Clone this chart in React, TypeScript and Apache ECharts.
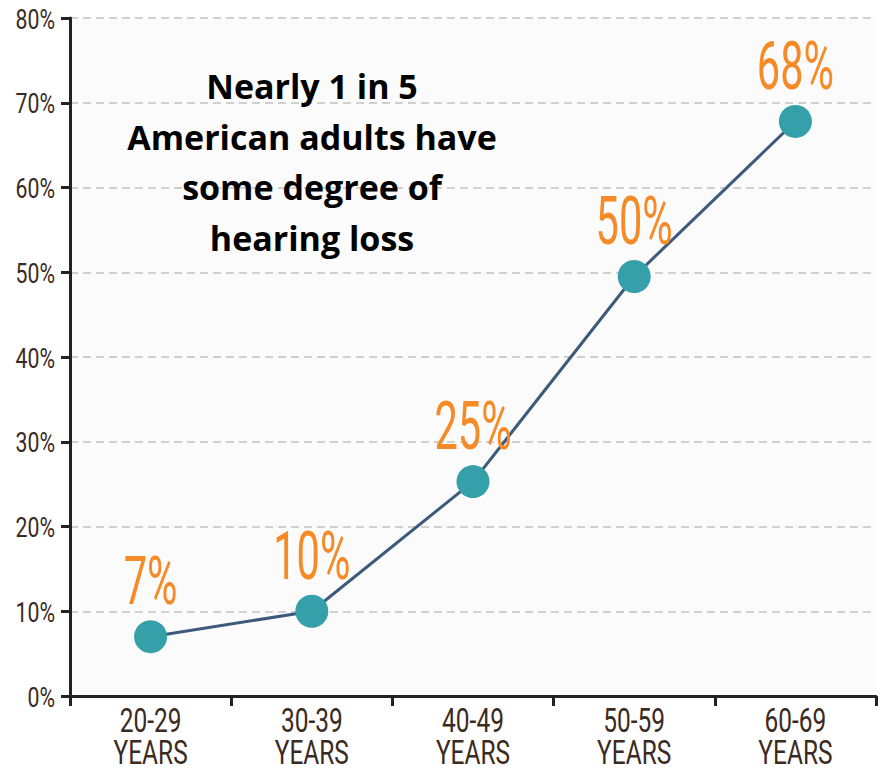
import React, { useEffect, useRef } from "react";
import * as echarts from "echarts";

const categories = ["20-29\nYEARS", "30-39\nYEARS", "40-49\nYEARS", "50-59\nYEARS", "60-69\nYEARS"];
const values = [7, 10, 25.3, 49.5, 67.8];
const labels = ["7%", "10%", "25%", "50%", "68%"];
const yTicks = [0, 10, 20, 30, 40, 50, 60, 70, 80];
const noteLines = ["Nearly 1 in 5", "American adults have", "some degree of", "hearing loss"];

const COND = 'Roboto, "DejaVu Sans", sans-serif';
const AXIS_TEXT = "#3b2a22";
const ORANGE = "#f68a26";

export default function App() {
  const ref = useRef<HTMLDivElement>(null);
  useEffect(() => {
    if (!ref.current) return;
    const chart = echarts.init(ref.current, null, { renderer: "svg" });
    chart.setOption({
      animation: false,
      backgroundColor: "#ffffff",
      grid: {
        left: 70,
        right: 11,
        top: 18,
        bottom: 79,
        show: true,
        backgroundColor: "#fbfbfb",
        borderWidth: 0,
      },
      graphic: noteLines.map((line, i) => ({
        type: "text",
        x: 312,
        y: 86 + i * 50.5,
        z: 10,
        style: {
          text: line,
          align: "center",
          verticalAlign: "middle",
          fontFamily: '"Open Sans", sans-serif',
          fontWeight: "bold",
          fontSize: 34,
          fill: "#000000",
        },
      })),
      xAxis: {
        type: "category",
        data: categories,
        boundaryGap: true,
        axisLine: { lineStyle: { color: "#222222", width: 3 } },
        axisTick: { show: true, length: 10, lineStyle: { color: "#222222", width: 3 } },
        axisLabel: { show: false },
      },
      yAxis: {
        type: "value",
        min: yTicks[0],
        max: yTicks[yTicks.length - 1],
        interval: 10,
        axisLine: { show: true, lineStyle: { color: "#222222", width: 3 } },
        axisTick: { show: true, length: 9, lineStyle: { color: "#222222", width: 3 } },
        axisLabel: { show: false },
        splitLine: {
          show: true,
          lineStyle: { color: "#c2c2c2", width: 1.5, type: [8, 5] },
        },
      },
      series: [
        {
          type: "line",
          data: values,
          symbol: "circle",
          symbolSize: 33,
          lineStyle: { color: "#3d5a7c", width: 3 },
          itemStyle: { color: "#35a0a9" },
          label: { show: false },
          z: 3,
        },
        {
          // data labels (condensed look via scaleX)
          type: "custom",
          clip: false,
          silent: true,
          z: 5,
          data: values.map((v, i) => [i, v]),
          renderItem: (params: any, api: any) => {
            const p = api.coord([api.value(0), api.value(1)]);
            return {
              type: "text",
              x: p[0],
              y: p[1] - 55,
              scaleX: 0.63,
              style: {
                text: labels[params.dataIndex],
                align: "center",
                verticalAlign: "middle",
                fontFamily: COND,
                fontSize: 66,
                fill: ORANGE,
              },
            };
          },
        },
        {
          // x-axis category labels
          type: "custom",
          clip: false,
          silent: true,
          z: 5,
          data: categories.map((c, i) => [i, 0]),
          renderItem: (params: any, api: any) => {
            const p = api.coord([api.value(0), 0]);
            const parts = categories[params.dataIndex].split("\n");
            return {
              type: "group",
              children: parts.map((t, k) => ({
                type: "text",
                x: p[0],
                y: p[1] + 25 + k * 32,
                scaleX: 0.72,
                style: {
                  text: t,
                  align: "center",
                  verticalAlign: "middle",
                  fontFamily: COND,
                  fontSize: 34,
                  fill: AXIS_TEXT,
                },
              })),
            };
          },
        },
        {
          // y-axis tick labels
          type: "custom",
          clip: false,
          silent: true,
          z: 5,
          data: yTicks.map((v) => [0, v]),
          renderItem: (params: any, api: any) => {
            const p = api.coord([0, api.value(1)]);
            const left = params.coordSys.x;
            return {
              type: "text",
              x: left - 15,
              y: p[1] + 1,
              scaleX: 0.76,
              style: {
                text: `${yTicks[params.dataIndex]}%`,
                align: "right",
                verticalAlign: "middle",
                fontFamily: COND,
                fontSize: 28,
                fill: AXIS_TEXT,
              },
            };
          },
        },
      ],
    });
    return () => chart.dispose();
  }, []);
  return (
    <div
      ref={ref}
      style={{ position: "absolute", left: 0, top: 0, width: 887, height: 775 }}
    />
  );
}
